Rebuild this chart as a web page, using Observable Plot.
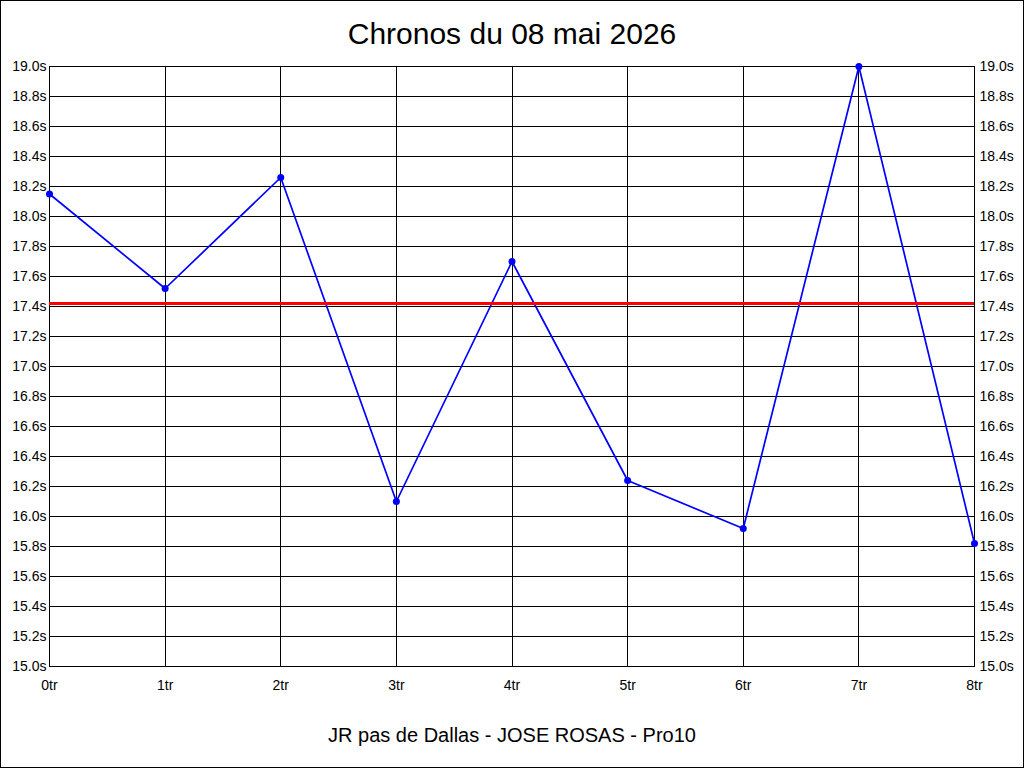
<!DOCTYPE html>
<html>
<head>
<meta charset="utf-8">
<script src="https://cdn.jsdelivr.net/npm/d3@7"></script>
<script src="https://cdn.jsdelivr.net/npm/@observablehq/plot@0.6"></script>
<style>
  html, body { margin: 0; padding: 0; background: #fff; }
  #page { position: relative; width: 1024px; height: 768px; overflow: hidden; background: #fff;
          font-family: "Liberation Sans", Arial, sans-serif; }
  #border { position: absolute; left: 0; top: 0; width: 1024px; height: 768px; box-sizing: border-box;
            border: 1px solid #000; pointer-events: none; }
  #title { position: absolute; left: 0; top: 19px; width: 1024px; text-align: center;
           font-size: 30px; line-height: 30px; color: #000; }
  #chart { position: absolute; left: 0; top: 50px; }
  #caption { position: absolute; left: 0; top: 725px; width: 1024px; text-align: center;
             font-size: 20px; line-height: 20px; color: #000; }
</style>
</head>
<body>
<div id="page">
  <div id="title"></div>
  <div id="chart"></div>
  <div id="caption"></div>
  <div id="border"></div>
</div>
<script>
const titleText = "Chronos du 08 mai 2026";
const captionText = "JR pas de Dallas - JOSE ROSAS - Pro10";
const laps = ["0tr", "1tr", "2tr", "3tr", "4tr", "5tr", "6tr", "7tr", "8tr"];
const times = [18.15, 17.52, 18.26, 16.10, 17.70, 16.24, 15.92, 19.00, 15.82];
const refTime = 17.42;
const yTicks = [15.0, 15.2, 15.4, 15.6, 15.8, 16.0, 16.2, 16.4, 16.6, 16.8, 17.0,
                17.2, 17.4, 17.6, 17.8, 18.0, 18.2, 18.4, 18.6, 18.8, 19.0];

document.getElementById("title").textContent = titleText;
document.getElementById("caption").textContent = captionText;

const rows = laps.map((l, i) => ({lap: l, t: times[i]}));
const fmt = d => d.toFixed(1) + "s";

const chart = Plot.plot({
  width: 1024,
  height: 660,
  marginTop: 16,
  marginBottom: 44,
  marginLeft: 49,
  marginRight: 50,
  style: {fontFamily: "'Liberation Sans', Arial, sans-serif", fontSize: "14px", color: "#000", background: "transparent"},
  x: {type: "point", domain: laps, padding: 0, round: false, label: null},
  y: {domain: [15, 19], label: null},
  marks: [
    Plot.ruleX(laps, {stroke: "#000", strokeWidth: 1, shapeRendering: "crispEdges"}),
    Plot.ruleY(yTicks, {stroke: "#000", strokeWidth: 1, shapeRendering: "crispEdges"}),
    Plot.frame({stroke: "#000", strokeWidth: 1, shapeRendering: "crispEdges"}),
    Plot.line(rows, {x: "lap", y: "t", stroke: "#0000ff", strokeWidth: 1.7}),
    Plot.dot(rows, {x: "lap", y: "t", r: 3.5, fill: "#0000ff", stroke: null}),
    Plot.ruleY([refTime], {stroke: "#ff0000", strokeWidth: 3, shapeRendering: "crispEdges"}),
    Plot.axisY(yTicks, {anchor: "left", tickSize: 0, tickPadding: 3, tickFormat: fmt, label: null, fill: "#000", fontSize: 14}),
    Plot.axisY(yTicks, {anchor: "right", tickSize: 0, tickPadding: 5, tickFormat: fmt, label: null, fill: "#000", fontSize: 14}),
    Plot.axisX(laps, {anchor: "bottom", tickSize: 0, tickPadding: 14, label: null, fill: "#000", fontSize: 14})
  ]
});
document.getElementById("chart").appendChild(chart);
</script>
</body>
</html>
